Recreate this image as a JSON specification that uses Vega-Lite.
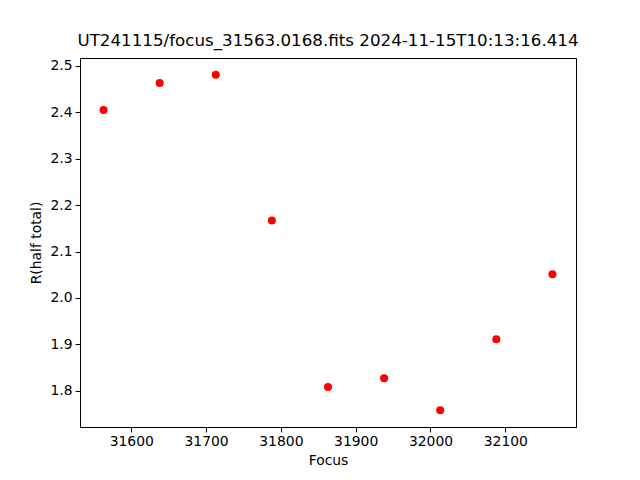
{
  "$schema": "https://vega.github.io/schema/vega-lite/v6.json",
  "width": 496,
  "height": 369,
  "autosize": {"type": "none"},
  "padding": {"left": 80, "top": 58, "right": 64, "bottom": 53},
  "background": "white",
  "title": {
    "text": "UT241115/focus_31563.0168.fits 2024-11-15T10:13:16.414",
    "font": "DejaVu Sans",
    "fontSize": 16.7,
    "fontWeight": "normal",
    "color": "black",
    "anchor": "middle",
    "offset": 8
  },
  "config": {
    "view": {"stroke": "black", "strokeWidth": 1},
    "axis": {
      "labelFont": "DejaVu Sans",
      "titleFont": "DejaVu Sans",
      "labelFontSize": 13.9,
      "titleFontSize": 13.9,
      "titleFontWeight": "normal",
      "labelColor": "black",
      "titleColor": "black",
      "domainColor": "black",
      "tickColor": "black",
      "tickSize": 4.9,
      "labelPadding": 3,
      "grid": false
    }
  },
  "data": {
    "values": [
      {"Focus": 31563, "R": 2.405},
      {"Focus": 31638, "R": 2.463},
      {"Focus": 31713, "R": 2.481},
      {"Focus": 31788, "R": 2.167},
      {"Focus": 31863, "R": 1.808},
      {"Focus": 31938, "R": 1.827},
      {"Focus": 32013, "R": 1.758},
      {"Focus": 32088, "R": 1.911},
      {"Focus": 32163, "R": 2.051}
    ]
  },
  "mark": {"type": "circle", "color": "#ff0000", "opacity": 1, "size": 64},
  "encoding": {
    "x": {
      "field": "Focus",
      "type": "quantitative",
      "scale": {"domain": [31531.5, 32194.5], "nice": false, "zero": false},
      "axis": {"title": "Focus", "values": [31600, 31700, 31800, 31900, 32000, 32100], "format": "d", "titlePadding": 5}
    },
    "y": {
      "field": "R",
      "type": "quantitative",
      "scale": {"domain": [1.7219, 2.5171], "nice": false, "zero": false},
      "axis": {"title": "R(half total)", "values": [1.8, 1.9, 2.0, 2.1, 2.2, 2.3, 2.4, 2.5], "format": ".1f", "titlePadding": 7}
    }
  }
}
